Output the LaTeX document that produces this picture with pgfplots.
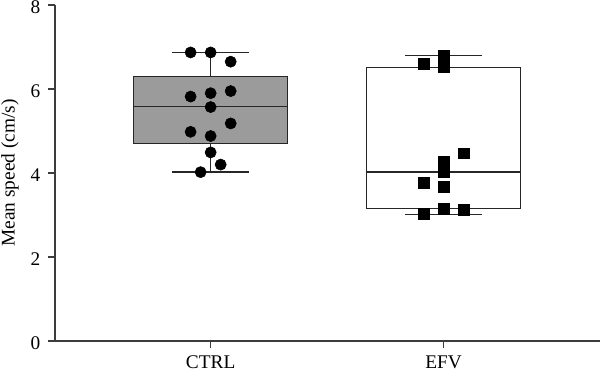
\documentclass[border=0pt]{standalone}
\usepackage{fontspec}
\setmainfont{Liberation Serif}
\usepackage{pgfplots}
\pgfplotsset{compat=1.18}
\usepgfplotslibrary{statistics}
\usetikzlibrary{calc}
\definecolor{boxgray}{RGB}{155,155,155}
\definecolor{axgray}{RGB}{60,60,60}
\begin{document}
\begin{tikzpicture}
\begin{axis}[
  scale only axis,
  width=408.75pt, height=252pt,
  xmin=0.332, xmax=2.671,
  ymin=0, ymax=8,
  boxplot/draw direction=y,
  axis x line=bottom, axis y line=left,
  axis line style={-, axgray, line width=1.2pt},
  xtick={1,2}, xticklabels={CTRL,EFV},
  ytick={0,2,4,6,8},
  tick align=outside,
  major tick length=5.5pt,
  every tick/.style={axgray, line width=1.2pt},
  tick label style={font=\fontsize{14.5}{17}\selectfont},
  /pgf/number format/assume math mode=true,
  yticklabel style={xshift=-2pt, yshift=-1.5pt},
  xticklabel style={yshift=-2.3pt},
  ylabel={Mean speed (cm/s)},
  every axis y label/.style={at={(axis description cs:-0.0826,0.5)}, rotate=90, anchor=center, font=\fontsize{14.5}{17}\selectfont},
  clip=false,
]
\coordinate (sw) at (rel axis cs:0,0);
\coordinate (ne) at (rel axis cs:1,1);
\addplot+[boxplot prepared={median=5.58, upper quartile=6.29, lower quartile=4.70,
  upper whisker=6.87, lower whisker=4.02, draw position=1, box extend=0.66, whisker extend=0.333},
  draw=black!85, fill=boxgray, line width=1pt, solid, mark=none] coordinates {};
\addplot+[boxplot prepared={median=4.02, upper quartile=6.51, lower quartile=3.15,
  upper whisker=6.79, lower whisker=3.01, draw position=2, box extend=0.66, whisker extend=0.333},
  draw=black!85, fill=white, line width=1pt, solid, mark=none] coordinates {};
\addplot[only marks, mark=*, mark size=4.2pt, black] coordinates {
  (0.914,6.87) (1,6.87) (1.086,6.65) (0.914,5.82) (1,5.90) (1.086,5.95)
  (1,5.57) (1.086,5.18) (0.914,4.98) (1,4.88) (1,4.49) (1.043,4.20) (0.957,4.02)};
\addplot[only marks, mark=square*, mark size=4.1pt, black] coordinates {
  (1.914,6.61) (2,6.79) (2,6.52) (2.086,4.47) (2,4.26) (2,4.02)
  (1.914,3.77) (2,3.67) (2,3.14) (2.086,3.12) (1.914,3.02)};
\end{axis}
\pgfresetboundingbox
\path ($(sw)+(-41.25pt,-24pt)$) rectangle ($(ne)+(0,3.75pt)$);
\end{tikzpicture}
\end{document}
